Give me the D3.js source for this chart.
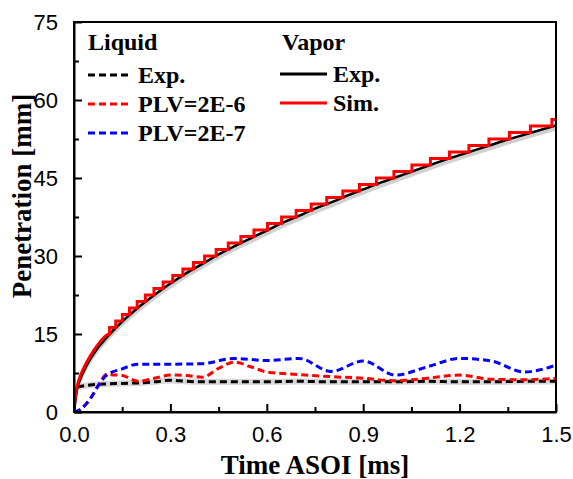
<!DOCTYPE html>
<html>
<head>
<meta charset="utf-8">
<script src="https://cdn.jsdelivr.net/npm/d3@7"></script>
<style>
  html, body { margin: 0; padding: 0; background: #fff; }
  svg { display: block; }
</style>
</head>
<body>
<svg id="chart" width="573" height="479"></svg>
<script>
// ---- Vapor penetration, experiment (mm vs ms) ----
const vapExpTime = [0, 0.01, 0.02, 0.03, 0.05, 0.075, 0.1, 0.15, 0.2, 0.25, 0.3, 0.35, 0.4, 0.45, 0.5,
  0.55, 0.6, 0.65, 0.7, 0.75, 0.8, 0.85, 0.9, 0.95, 1.0, 1.05, 1.1, 1.15, 1.2, 1.25, 1.3, 1.35, 1.4, 1.45, 1.5];
const vapExpPen = [0, 4.5, 6.4, 7.8, 10.1, 12.4, 14.2, 17.4, 20.1, 22.5, 24.7, 26.7, 28.5, 30.3, 31.9,
  33.4, 34.9, 36.4, 37.7, 39.1, 40.3, 41.6, 42.8, 44.0, 45.1, 46.2, 47.3, 48.4, 49.4, 50.4, 51.4, 52.4, 53.3, 54.2, 55.1];

// ---- Vapor penetration, simulation: early smooth rise ----
const vapSimEarlyTime = [0, 0.005, 0.01, 0.02, 0.03, 0.05, 0.075, 0.1, 0.1106];
const vapSimEarlyPen  = [0, 3.4, 5.0, 7.0, 8.4, 10.7, 13.0, 14.7, 15.0];

// ---- Vapor penetration, simulation: stepwise output ----
const vapSimTime = [0.1106, 0.1298, 0.1506, 0.1728, 0.1967, 0.2220, 0.2489, 0.2773, 0.3073, 0.3388, 0.3718,
  0.4064, 0.4425, 0.4801, 0.5193, 0.5600, 0.6023, 0.6461, 0.6914, 0.7382, 0.7866, 0.8366, 0.8881,
  0.9410, 0.9956, 1.0516, 1.1092, 1.1684, 1.2290, 1.2913, 1.3551, 1.4204, 1.4872, 1.5];
const vapSimPen = [16.25, 17.5, 18.75, 20, 21.25, 22.5, 23.75, 25, 26.25, 27.5, 28.75,
  30, 31.25, 32.5, 33.75, 35, 36.25, 37.5, 38.75, 40, 41.25, 42.5, 43.75,
  45, 46.25, 47.5, 48.75, 50, 51.25, 52.5, 53.75, 55, 56.25, 56.25];

// ---- Liquid length, experiment ----
const liqExpTime = [0.01, 0.05, 0.1, 0.15, 0.2, 0.25, 0.3, 0.35, 0.4, 0.5, 0.6, 0.7, 0.8, 0.9, 1.0, 1.1, 1.2, 1.3, 1.4, 1.5];
const liqExpPen  = [4.8, 5.2, 5.4, 5.5, 5.6, 5.8, 6.1, 5.9, 5.8, 5.8, 5.8, 5.9, 5.8, 5.8, 5.8, 5.9, 5.8, 5.8, 5.9, 5.9];

// ---- Liquid length, PLV = 2E-6 ----
const liqP6Time = [0, 0.02, 0.05, 0.08, 0.1, 0.15, 0.2, 0.25, 0.3, 0.35, 0.4, 0.45, 0.5, 0.55, 0.6, 0.7, 0.8, 0.9, 1.0, 1.1, 1.2, 1.3, 1.4, 1.5];
const liqP6Pen  = [0, 0.5, 2.5, 5.5, 7.2, 7.0, 5.9, 6.5, 7.1, 7.0, 6.7, 8.4, 9.6, 8.7, 7.7, 7.2, 6.8, 6.5, 6.0, 6.5, 7.1, 6.3, 6.2, 6.5];

// ---- Liquid length, PLV = 2E-7 ----
const liqP7Time = [0, 0.02, 0.05, 0.08, 0.1, 0.15, 0.2, 0.3, 0.4, 0.5, 0.6, 0.7, 0.8, 0.9, 1.0, 1.1, 1.2, 1.3, 1.4, 1.5];
const liqP7Pen  = [0, 0.5, 2.5, 5.5, 7.0, 8.3, 9.2, 9.2, 9.3, 10.3, 9.9, 10.3, 7.8, 9.8, 7.1, 8.7, 10.3, 9.8, 7.7, 9.0];

// ---- Axis ticks ----
const xTicks = [0.0, 0.3, 0.6, 0.9, 1.2, 1.5];
const xMinor = [0.15, 0.45, 0.75, 1.05, 1.35];
const yTicks = [0, 15, 30, 45, 60, 75];
const yMinor = [7.5, 22.5, 37.5, 52.5, 67.5];

// ---- Legend entries ----
const liquidLegend = [
  { label: "Exp.", color: "#000000" },
  { label: "PLV=2E-6", color: "#ff0000" },
  { label: "PLV=2E-7", color: "#0000ff" }
];
const vaporLegend = [
  { label: "Exp.", color: "#000000" },
  { label: "Sim.", color: "#ff0000" }
];

const W = 573, H = 479;
const margin = { left: 74, right: 17, top: 22, bottom: 67 };
const svg = d3.select("#chart");

const x = d3.scaleLinear().domain([0, 1.5]).range([margin.left, W - margin.right]);
const y = d3.scaleLinear().domain([0, 75]).range([H - margin.bottom, margin.top]);

const zip = (ts, vs) => ts.map((t, i) => [t, vs[i]]);
const serif = "'Liberation Serif', 'Times New Roman', serif";
const sans = "'Liberation Sans', Arial, sans-serif";

const clipId = "plotClip";
svg.append("clipPath").attr("id", clipId).append("rect")
  .attr("x", margin.left).attr("y", margin.top)
  .attr("width", x(1.5) - x(0)).attr("height", y(0) - y(75));
const plot = svg.append("g").attr("clip-path", `url(#${clipId})`);

// grey scatter bands behind the experimental curves
const vapExp = zip(vapExpTime, vapExpPen);
plot.append("path")
  .datum(vapExp)
  .attr("fill", "#c4c4c4")
  .attr("opacity", 0.8)
  .attr("d", d3.area().x(d => x(d[0])).y0(d => y(d[1] - 1.0)).y1(d => y(d[1] + 0.2)).curve(d3.curveMonotoneX));

const liqExp = zip(liqExpTime, liqExpPen);
plot.append("path")
  .datum(liqExp)
  .attr("fill", "#d0d0d0")
  .attr("opacity", 0.8)
  .attr("d", d3.area().x(d => x(d[0])).y0(d => y(d[1] - 0.6)).y1(d => y(d[1] + 0.6)).curve(d3.curveMonotoneX));

const smooth = d3.line().x(d => x(d[0])).y(d => y(d[1])).curve(d3.curveMonotoneX);
const dash = "7,4";

plot.append("path").datum(liqExp)
  .attr("fill", "none").attr("stroke", "#000").attr("stroke-width", 3)
  .attr("stroke-dasharray", dash).attr("d", smooth);
plot.append("path").datum(zip(liqP6Time, liqP6Pen))
  .attr("fill", "none").attr("stroke", "#ff0000").attr("stroke-width", 3)
  .attr("stroke-dasharray", dash).attr("d", smooth);
plot.append("path").datum(zip(liqP7Time, liqP7Pen))
  .attr("fill", "none").attr("stroke", "#0000ff").attr("stroke-width", 3)
  .attr("stroke-dasharray", dash).attr("d", smooth);

plot.append("path").datum(vapExp)
  .attr("fill", "none").attr("stroke", "#000").attr("stroke-width", 2.5)
  .attr("d", smooth);

// simulated vapor: smooth start, then the stepped part
const simEarly = zip(vapSimEarlyTime, vapSimEarlyPen);
const simSteps = zip(vapSimTime, vapSimPen);
const stepLine = d3.line().x(d => x(d[0])).y(d => y(d[1])).curve(d3.curveStepAfter);
plot.append("path")
  .attr("fill", "none").attr("stroke", "#ff0000").attr("stroke-width", 3)
  .attr("stroke-linejoin", "miter")
  .attr("d", smooth(simEarly) + stepLine(simSteps).replace(/^M/, "L"));

// ---- Axes (ticks pointing inward) ----
svg.append("g")
  .attr("transform", `translate(0,${y(0)})`)
  .call(d3.axisBottom(x).tickValues(xTicks).tickFormat(d3.format(".1f"))
    .tickSizeInner(-8).tickSizeOuter(0).tickPadding(14));
svg.append("g")
  .attr("transform", `translate(0,${y(0)})`)
  .call(d3.axisBottom(x).tickValues(xMinor).tickFormat("").tickSizeInner(-5).tickSizeOuter(0))
  .call(g => g.select(".domain").remove());

svg.append("g")
  .attr("transform", `translate(${x(0)},0)`)
  .call(d3.axisLeft(y).tickValues(yTicks).tickFormat(d3.format("d"))
    .tickSizeInner(-8).tickSizeOuter(0).tickPadding(16));
svg.append("g")
  .attr("transform", `translate(${x(0)},0)`)
  .call(d3.axisLeft(y).tickValues(yMinor).tickFormat("").tickSizeInner(-5).tickSizeOuter(0))
  .call(g => g.select(".domain").remove());

svg.selectAll(".tick line").attr("stroke", "#000").attr("stroke-width", 2);
svg.selectAll(".domain").attr("stroke", "#000").attr("stroke-width", 2);
svg.selectAll(".tick text").attr("font-family", sans).attr("font-size", 22).attr("fill", "#000");

// frame (top and right)
svg.append("rect")
  .attr("x", x(0)).attr("y", y(75))
  .attr("width", x(1.5) - x(0)).attr("height", y(0) - y(75))
  .attr("fill", "none").attr("stroke", "#000").attr("stroke-width", 2);

// ---- Axis titles ----
svg.append("text")
  .attr("x", (x(0) + x(1.5)) / 2).attr("y", 474)
  .attr("text-anchor", "middle")
  .attr("font-family", serif).attr("font-weight", "bold").attr("font-size", 27)
  .text("Time ASOI [ms]");
svg.append("text")
  .attr("transform", "translate(31,196) rotate(-90)")
  .attr("text-anchor", "middle")
  .attr("font-family", serif).attr("font-weight", "bold").attr("font-size", 27)
  .text("Penetration [mm]");

// ---- Legend ----
const lg = svg.append("g").attr("font-family", serif).attr("font-weight", "bold").attr("font-size", 24);
lg.append("text").attr("x", 88).attr("y", 50).text("Liquid");
lg.append("text").attr("x", 282).attr("y", 50).text("Vapor");

const liqRows = [75, 104, 133];
liquidLegend.forEach((d, i) => {
  lg.append("line").attr("x1", 88).attr("x2", 131).attr("y1", liqRows[i]).attr("y2", liqRows[i])
    .attr("stroke", d.color).attr("stroke-width", 3).attr("stroke-dasharray", dash);
  lg.append("text").attr("x", 138).attr("y", liqRows[i] + 8).text(d.label);
});
const vapRows = [74, 103];
vaporLegend.forEach((d, i) => {
  lg.append("line").attr("x1", 280).attr("x2", 327).attr("y1", vapRows[i]).attr("y2", vapRows[i])
    .attr("stroke", d.color).attr("stroke-width", 3);
  lg.append("text").attr("x", 333).attr("y", vapRows[i] + 8).text(d.label);
});
</script>
</body>
</html>
